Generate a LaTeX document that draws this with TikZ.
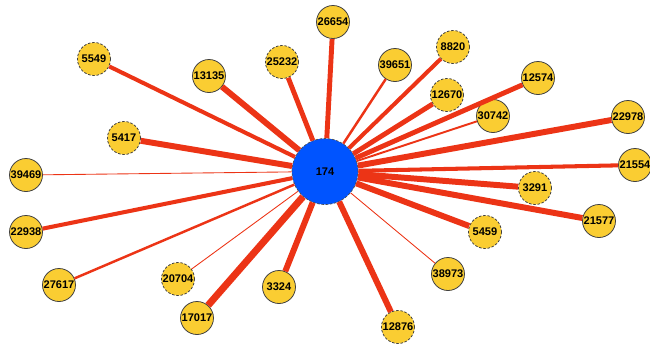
\documentclass[tikz,border=0pt]{standalone}
\usepackage{fontspec}
\setmainfont{Liberation Sans}
\usepackage{tikz}
\definecolor{leafyellow}{RGB}{250,205,50}
\definecolor{hubblue}{RGB}{0,84,255}
\definecolor{linkred}{RGB}{236,52,22}
\tikzset{leaf node/.style={circle,fill=leafyellow,draw=black!75,line width=0.45pt,minimum size=0.66cm,inner sep=0pt,font=\fontsize{6.3}{7}\selectfont\bfseries},
	dash node/.style={leaf node,dash pattern=on 1.4pt off 1pt},
	hub node/.style={circle,fill=hubblue,draw=black!70,line width=0.4pt,dash pattern=on 1.4pt off 1pt,minimum size=1.32cm,inner sep=0pt,font=\fontsize{6.3}{7}\selectfont\bfseries},
	link/.style={draw=linkred},
}

\begin{document}
\begin{tikzpicture}[x=0.02cm,y=-0.02cm]
			\useasboundingbox (0,0) rectangle (650,343);

			%% neighbours
			\node[dash node] (5549) at (94,59) {5549};
			\node[leaf node] (13135) at (209,76) {13135};
			\node[dash node] (25232) at (282,62) {25232};
			\node[leaf node] (26654) at (333,22) {26654};
			\node[leaf node] (39651) at (395,65) {39651};
			\node[dash node] (8820) at (453,47) {8820};
			\node[dash node] (12670) at (447,95) {12670};
			\node[leaf node] (12574) at (538,78) {12574};
			\node[leaf node] (30742) at (493,116) {30742};
			\node[leaf node] (22978) at (628,117) {22978};
			\node[leaf node] (21554) at (635,165) {21554};
			\node[dash node] (5417) at (124,138) {5417};
			\node[leaf node] (39469) at (26,175) {39469};
			\node[leaf node] (22938) at (26,232) {22938};
			\node[leaf node] (27617) at (59,285) {27617};
			\node[dash node] (20704) at (178,279) {20704};
			\node[leaf node] (17017) at (197,318) {17017};
			\node[leaf node] (3324) at (279,287) {3324};
			\node[dash node] (12876) at (398,327) {12876};
			\node[leaf node] (38973) at (448,274) {38973};
			\node[dash node] (5459) at (485,232) {5459};
			\node[dash node] (3291) at (535,188) {3291};
			\node[leaf node] (21577) at (599,221) {21577};

			%% hub
			\node[hub node] (174) at (325,171.5) {174};

			\path[link]
			(174) edge[line width=2.3pt] (5549)
			(174) edge[line width=3.4pt] (13135)
			(174) edge[line width=2.8pt] (25232)
			(174) edge[line width=2.8pt] (26654)
			(174) edge[line width=1.4pt] (39651)
			(174) edge[line width=2.3pt] (8820)
			(174) edge[line width=2.8pt] (12670)
			(174) edge[line width=2.8pt] (12574)
			(174) edge[line width=1.1pt] (30742)
			(174) edge[line width=3.4pt] (22978)
			(174) edge[line width=2.3pt] (21554)
			(174) edge[line width=3.4pt] (5417)
			(174) edge[line width=0.5pt] (39469)
			(174) edge[line width=2.3pt] (22938)
			(174) edge[line width=1.4pt] (27617)
			(174) edge[line width=0.5pt] (20704)
			(174) edge[line width=4pt] (17017)
			(174) edge[line width=3.4pt] (3324)
			(174) edge[line width=3.4pt] (12876)
			(174) edge[line width=0.5pt] (38973)
			(174) edge[line width=3.4pt] (5459)
			(174) edge[line width=3.4pt] (3291)
			(174) edge[line width=3.4pt] (21577)
			;
\end{tikzpicture}
\end{document}
